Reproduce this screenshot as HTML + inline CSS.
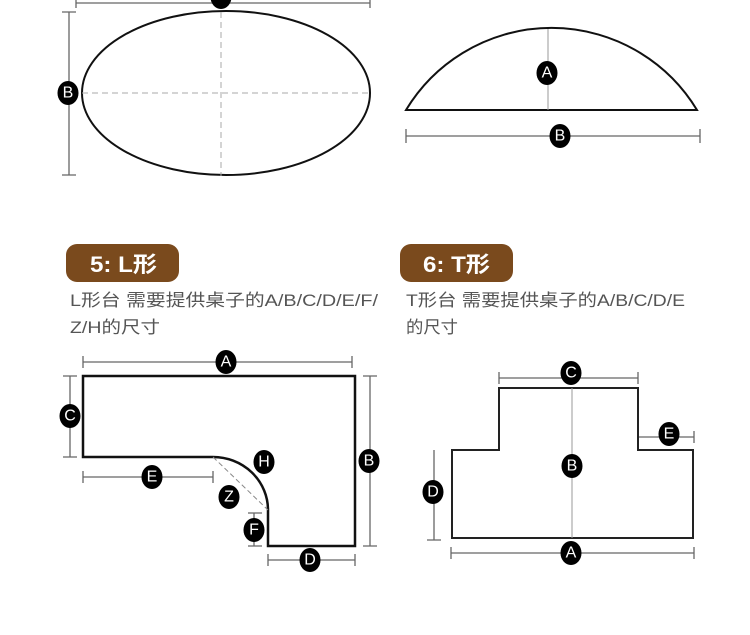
<!DOCTYPE html>
<html><head><meta charset="utf-8"><style>
html,body{margin:0;padding:0;background:#fff;width:750px;height:635px;overflow:hidden}
svg{display:block}
.bt{font-family:"Liberation Sans","Noto Sans CJK SC",sans-serif;font-weight:bold;font-size:22px;fill:#fff}
.tx{font-family:"Liberation Sans","Noto Sans CJK SC",sans-serif;font-size:17px;fill:#555}
.bl{font-family:"Liberation Sans",sans-serif;font-size:16px;fill:#fff;text-anchor:middle;dominant-baseline:central}
.dim{stroke:#666;stroke-width:1.3;fill:none}
</style></head><body>
<svg width="750" height="635" viewBox="0 0 750 635" xmlns="http://www.w3.org/2000/svg">
<defs>
<g id="b"><ellipse cx="0" cy="0" rx="10.5" ry="12" fill="#000"/></g>
</defs>
<!-- ellipse -->
<path class="dim" d="M76 3H370M76 -4V8M370 -4V8"/>
<use href="#b" x="221" y="-3"/>
<ellipse cx="226" cy="93" rx="144" ry="82" fill="#fff" stroke="#111" stroke-width="2"/>
<path d="M221 12V176M82 93H370" stroke="#aaa" stroke-dasharray="6 4" fill="none"/>
<path class="dim" d="M69 12V175M62 12H76M62 175H76"/>
<use href="#b" x="68" y="93"/><text class="bl" x="68" y="93">B</text>
<!-- segment -->
<path d="M406 110A170 170 0 0 1 697 110Z" fill="#fff" stroke="#111" stroke-width="2"/>
<path d="M548 29V110" stroke="#999" stroke-width="1"/>
<use href="#b" x="547" y="73"/><text class="bl" x="547" y="73">A</text>
<path class="dim" d="M406 136H700M406 129V143M700 129V143"/>
<use href="#b" x="560" y="136"/><text class="bl" x="560" y="136">B</text>
<!-- buttons -->
<rect x="66" y="244" width="113" height="38" rx="11" fill="#7a4a1d"/>
<text class="bt" x="90" y="272" textLength="67" lengthAdjust="spacingAndGlyphs">5: L形</text>
<rect x="400" y="244" width="113" height="38" rx="11" fill="#7a4a1d"/>
<text class="bt" x="423" y="272" textLength="67" lengthAdjust="spacingAndGlyphs">6: T形</text>
<text class="tx" x="70" y="306" textLength="308" lengthAdjust="spacingAndGlyphs">L形台 需要提供桌子的A/B/C/D/E/F/</text>
<text class="tx" x="70" y="333" textLength="90" lengthAdjust="spacingAndGlyphs">Z/H的尺寸</text>
<text class="tx" x="406" y="306" textLength="279" lengthAdjust="spacingAndGlyphs">T形台 需要提供桌子的A/B/C/D/E</text>
<text class="tx" x="406" y="333" textLength="52" lengthAdjust="spacingAndGlyphs">的尺寸</text>
<!-- L shape -->
<path d="M83 376H355V546H268V510A55 53 0 0 0 213 457H83Z" fill="#fff" stroke="#111" stroke-width="2.5"/>
<path d="M213 457L268 510" stroke="#888" stroke-dasharray="5 3"/>
<path class="dim" d="M83 362H352M83 356V368M352 356V368"/>
<use href="#b" x="226" y="362"/><text class="bl" x="226" y="362">A</text>
<path class="dim" d="M70 376V457M63 376H77M63 457H77"/>
<use href="#b" x="70" y="416"/><text class="bl" x="70" y="416">C</text>
<path class="dim" d="M370 376V546M363 376H377M363 546H377"/>
<use href="#b" x="369" y="461"/><text class="bl" x="369" y="461">B</text>
<path class="dim" d="M83 477H213M83 471V483M213 471V483"/>
<use href="#b" x="152" y="477"/><text class="bl" x="152" y="477">E</text>
<path class="dim" d="M268 560H355M268 554V566M355 554V566"/>
<use href="#b" x="310" y="560"/><text class="bl" x="310" y="560">D</text>
<path class="dim" d="M254 513V546M248 513H262M248 546H262"/>
<use href="#b" x="254" y="530"/><text class="bl" x="254" y="530">F</text>
<use href="#b" x="264" y="462"/><text class="bl" x="264" y="462">H</text>
<use href="#b" x="229" y="497"/><text class="bl" x="229" y="497">Z</text>
<!-- T shape -->
<path d="M452 450H499V388H638V450H693V538H452Z" fill="#fff" stroke="#222" stroke-width="2"/>
<path d="M572 388V538" stroke="#999" stroke-width="1"/>
<path class="dim" d="M499 378H638M499 372V384M638 372V384"/>
<use href="#b" x="571" y="373"/><text class="bl" x="571" y="373">C</text>
<path class="dim" d="M639 437H694M694 431V443"/>
<use href="#b" x="669" y="434"/><text class="bl" x="669" y="434">E</text>
<path class="dim" d="M434 450V540M427 540H441"/>
<use href="#b" x="433" y="492"/><text class="bl" x="433" y="492">D</text>
<path class="dim" d="M451 553H694M451 547V559M694 547V559"/>
<use href="#b" x="571" y="553"/><text class="bl" x="571" y="553">A</text>
<use href="#b" x="572" y="466"/><text class="bl" x="572" y="466">B</text>
</svg>
</body></html>
